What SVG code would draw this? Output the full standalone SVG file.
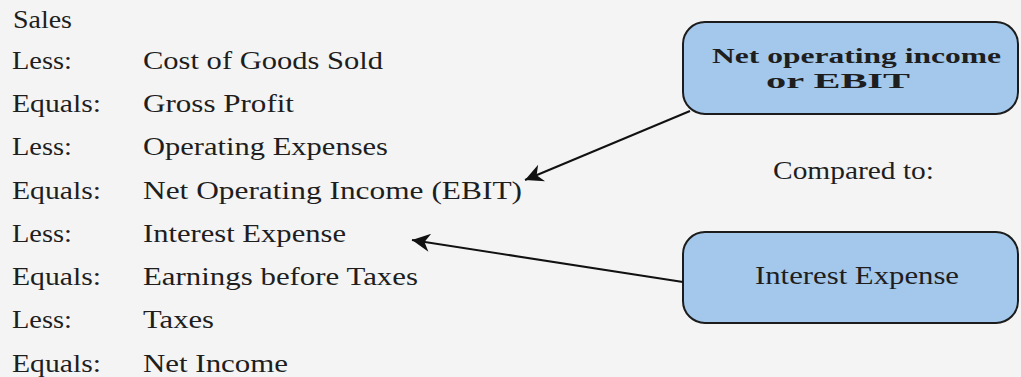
<svg xmlns="http://www.w3.org/2000/svg" width="1021" height="377" viewBox="0 0 1021 377">
<style>
text{font-family:"Liberation Serif","Times New Roman",serif;font-size:25px;fill:#1e1e1e}
.b{font-weight:bold;font-size:22px}
.box{fill:#a3c8ec;stroke:#1c1c1c;stroke-width:2}
.conn{stroke:#111;stroke-width:2;fill:none;marker-end:url(#ah)}
</style>
<defs>
<marker id="ah" viewBox="0 0 10 10" refX="10" refY="5" markerWidth="14" markerHeight="9" orient="auto" markerUnits="strokeWidth">
<path d="M0,0 L10,5 L0,10 L3,5 z" fill="#111"/>
</marker>
</defs>
<rect width="1021" height="377" fill="#f4f4f4"/>
<g id="statement">
<text x="13" y="28" textLength="59" lengthAdjust="spacingAndGlyphs">Sales</text>
<text x="12" y="69" textLength="60" lengthAdjust="spacingAndGlyphs">Less:</text>
<text x="143" y="69" textLength="240" lengthAdjust="spacingAndGlyphs">Cost of Goods Sold</text>
<text x="12" y="112" textLength="89" lengthAdjust="spacingAndGlyphs">Equals:</text>
<text x="143" y="112" textLength="151" lengthAdjust="spacingAndGlyphs">Gross Profit</text>
<text x="12" y="155" textLength="60" lengthAdjust="spacingAndGlyphs">Less:</text>
<text x="143" y="155" textLength="245" lengthAdjust="spacingAndGlyphs">Operating Expenses</text>
<text x="12" y="199" textLength="89" lengthAdjust="spacingAndGlyphs">Equals:</text>
<text x="143" y="199" textLength="379" lengthAdjust="spacingAndGlyphs">Net Operating Income (EBIT)</text>
<text x="12" y="242" textLength="60" lengthAdjust="spacingAndGlyphs">Less:</text>
<text x="143" y="242" textLength="203" lengthAdjust="spacingAndGlyphs">Interest Expense</text>
<text x="12" y="285" textLength="89" lengthAdjust="spacingAndGlyphs">Equals:</text>
<text x="143" y="285" textLength="275" lengthAdjust="spacingAndGlyphs">Earnings before Taxes</text>
<text x="12" y="328" textLength="60" lengthAdjust="spacingAndGlyphs">Less:</text>
<text x="143" y="328" textLength="71" lengthAdjust="spacingAndGlyphs">Taxes</text>
<text x="12" y="372" textLength="89" lengthAdjust="spacingAndGlyphs">Equals:</text>
<text x="143" y="372" textLength="145" lengthAdjust="spacingAndGlyphs">Net Income</text>
</g>
<g id="ebit-box">
<rect class="box" x="683" y="22" width="335" height="92" rx="22"/>
<text class="b" x="712" y="63" textLength="289" lengthAdjust="spacingAndGlyphs">Net operating income</text>
<text class="b" x="766" y="88" textLength="144" lengthAdjust="spacingAndGlyphs">or EBIT</text>
</g>
<g id="compared">
<text x="773" y="179" textLength="161" lengthAdjust="spacingAndGlyphs">Compared to:</text>
</g>
<g id="interest-box">
<rect class="box" x="683" y="232" width="335" height="91" rx="22"/>
<text x="755" y="284" textLength="204" lengthAdjust="spacingAndGlyphs">Interest Expense</text>
</g>
<g id="connectors">
<line class="conn" x1="690" y1="111" x2="525" y2="180"/>
<line class="conn" x1="683" y1="282" x2="412" y2="240"/>
</g>
</svg>
